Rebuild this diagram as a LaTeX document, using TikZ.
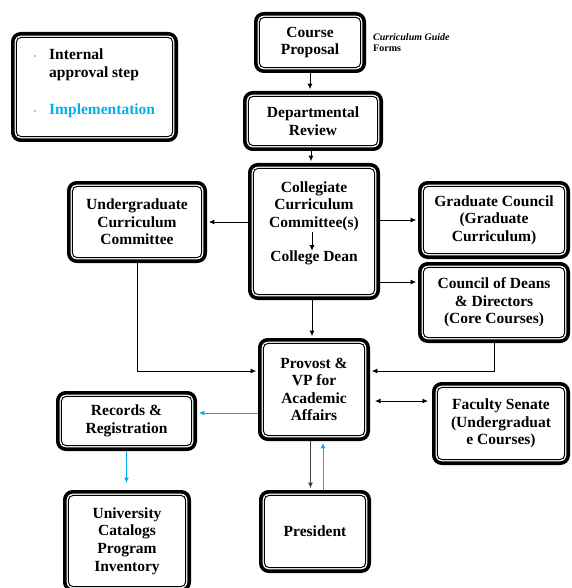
\documentclass[tikz,border=0pt]{standalone}
\usepackage{fontspec}
\setmainfont{Liberation Serif}
\usetikzlibrary{arrows.meta,calc}
\definecolor{implblue}{HTML}{00B0F0}
\definecolor{darkline}{HTML}{404040}
\newcommand{\boxfont}{\fontsize{15.5}{17.6}\selectfont\bfseries}
\tikzset{
  stepbox/.style={draw=black, line width=3.6pt, rounded corners=8pt,
    inner sep=0pt, align=center, font=\boxfont},
  innerline/.style={draw=black, line width=1pt, rounded corners=5pt},
  arr/.style={draw=black, line width=0.9pt, -{Latex[length=5.5pt,width=5pt]}, shorten >=1.8pt},
  arrtwo/.style={draw=black, line width=0.9pt, {Latex[length=5.5pt,width=5pt]}-{Latex[length=5.5pt,width=5pt]}},
  blarr/.style={draw=implblue, line width=0.9pt, -{Latex[length=5.5pt,width=5pt]}, shorten >=1.8pt},
  dkarr/.style={draw=darkline, line width=0.9pt, -{Latex[length=5.5pt,width=5pt]}, shorten >=1.8pt},
  dot/.style={circle, inner sep=0pt, minimum size=1.8pt},
}
\begin{document}
\begin{tikzpicture}[x=1pt, y=-1pt]
\clip (0,0) rectangle (571,588);
\fill[white] (0,0) rectangle (571,588);

% legend
\node[stepbox, minimum width=163.4pt, minimum height=106.4pt] (legend) at (94.5,87) {};
\node[dot, fill=gray] (d1) at (35,56) {};
\node[dot, fill=implblue] (d2) at (35,111) {};
\node[anchor=west, align=left, inner sep=0pt, font=\fontsize{15.5}{18.5}\selectfont\bfseries] (lg1) at (49,65) {Internal\\approval step};
\node[anchor=west, inner sep=0pt, font=\boxfont, text=implblue] (lg2) at (49,111) {Implementation};

% process boxes
\node[stepbox, minimum width=108.4pt, minimum height=57.4pt] (prop) at (310,42.5) {Course\\Proposal};
\node[anchor=west, align=left, inner sep=0pt, font=\fontsize{10}{11}\selectfont\bfseries] (forms) at (373,42.5) {\textit{Curriculum Guide}\\Forms};
\node[stepbox, minimum width=136.4pt, minimum height=56.4pt] (dept) at (313,121) {Departmental\\Review};
\node[stepbox, minimum width=128.4pt, minimum height=133.4pt] (coll) at (314,231.5) {};
\node[inner sep=0pt, align=center, font=\boxfont] (colltxt) at (314,206) {Collegiate\\Curriculum\\Committee(s)};
\node[inner sep=0pt, font=\boxfont] (dean) at (314,258) {College Dean};
\node[stepbox, minimum width=136.4pt, minimum height=78.4pt] (ucc) at (137,222) {Undergraduate\\Curriculum\\Committee};
\node[stepbox, minimum width=148.4pt, minimum height=74.4pt] (grad) at (494,220) {Graduate Council\\(Graduate\\Curriculum)};
\node[stepbox, minimum width=148.4pt, minimum height=77.4pt] (cdd) at (494,302.5) {Council of Deans\\\& Directors\\(Core Courses)};
\node[stepbox, minimum width=108.4pt, minimum height=99.4pt] (prov) at (314,389.5) {Provost \&\\VP for\\Academic\\Affairs};
\node[stepbox, minimum width=134.4pt, minimum height=79.4pt] (fs) at (501,423.5) {Faculty Senate\\(Undergraduat\\e Courses)};
\node[stepbox, minimum width=137.4pt, minimum height=56.4pt] (rr) at (126.5,421) {Records \&\\Registration};
\node[stepbox, minimum width=124.4pt, minimum height=98.4pt] (uc) at (127,541) {University\\Catalogs\\Program\\Inventory};
\node[stepbox, minimum width=108.4pt, minimum height=79.4pt] (pres) at (315,531.5) {President};

% thin inner outline of every box
\foreach \n in {legend,prop,dept,coll,ucc,grad,cdd,prov,fs,rr,uc,pres}{
  \draw[innerline] ($(\n.south west)+(5.3pt,5.3pt)$) rectangle ($(\n.north east)+(-5.3pt,-5.3pt)$);
}

% anchor points on the provost box for side connectors
\coordinate (cddrow) at (0,282);
\coordinate (provfs) at ([xshift=5pt,yshift=-11.5pt]prov.east);
\coordinate (provrr) at ([yshift=-23.5pt]prov.west);

% connectors
\draw[arr] (prop.south) -- (prop.south |- dept.north);
\draw[arr] ([xshift=-2pt]dept.south) -- ([xshift=-2pt]dept.south |- coll.north);
\draw[arr, shorten >=0pt] ([xshift=-2pt,yshift=-1pt]colltxt.south) -- ([xshift=-2pt]dean.north);
\draw[arr] (coll.west |- ucc.east) -- (ucc.east);
\draw[arr] (coll.east |- grad.west) -- (grad.west);
\draw[arr] (coll.east |- cddrow) -- (cdd.west |- cddrow);
\draw[arr] ([xshift=-2pt]coll.south) -- ([xshift=-2pt]coll.south |- prov.north);
\draw[arr] (ucc.south) |- ([yshift=18.5pt]prov.west);
\draw[arr] (cdd.south) |- ([yshift=18.5pt]prov.east);
\draw[arrtwo] (provfs) -- ([xshift=-4pt]fs.west |- provfs);
\draw[blarr] (provrr) -- (rr.east |- provrr);
\draw[blarr, shorten >=7pt] (rr.south) -- (rr.south |- uc.north);
\draw[dkarr] ([xshift=-3.5pt]prov.south) -- ([xshift=-3.5pt]prov.south |- pres.north);
\draw[blarr] ([xshift=8pt]pres.north) -- ([xshift=8pt]pres.north |- prov.south);
\end{tikzpicture}
\end{document}
